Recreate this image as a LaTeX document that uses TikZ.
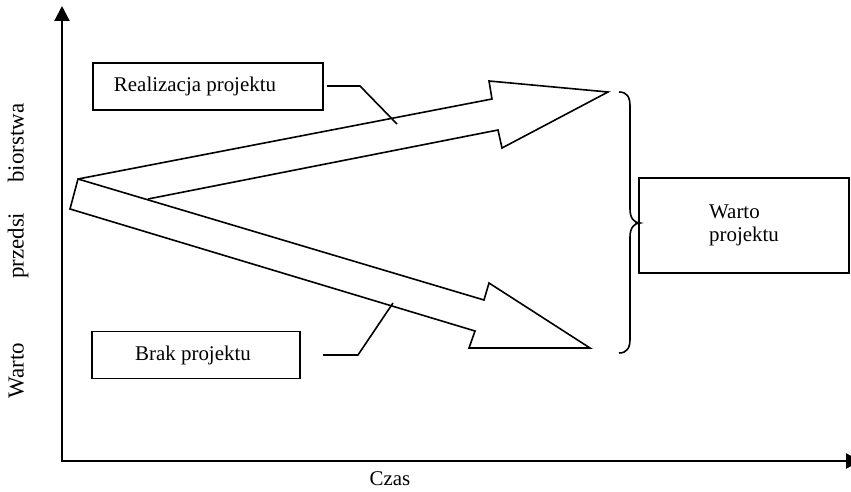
\documentclass[tikz,border=0pt]{standalone}
\usepackage{fontspec}
\setmainfont{Liberation Serif}
\usetikzlibrary{arrows.meta}
\begin{document}
\begin{tikzpicture}[x=1bp,y=-1bp,
  font=\fontsize{21}{23}\selectfont,
  box/.style={draw, line width=1.6bp, inner sep=0pt},
  shapeline/.style={line width=1.6bp, line join=miter},
  axis/.style={line width=2.2bp, -{Triangle[length=15bp,width=15bp]}}]
\useasboundingbox (0,0) rectangle (851,492);
% axes
\coordinate (o) at (62,461);
\coordinate (ytip) at (62,6);
\coordinate (xtip) at (861,461);
\draw[axis] ([yshift=-1.1bp]o) -- (ytip);
\draw[axis] ([xshift=-1.1bp]o) -- (xtip);
\node[rotate=90, font=\fontsize{23}{25}\selectfont] (ylab) at (18,251) {Warto\hspace{64bp}przedsi\hspace{30bp}biorstwa};
\node (xlab) at (390,479) {Czas};
% arrows
\draw[shapeline] (78,179) -- (492,99) -- (489,81) -- (608,92) -- (502,148) -- (498,130) -- (148,199);
\draw[shapeline] (78,179) -- (484,300) -- (489,283) -- (590,348) -- (469,348) -- (475,331) -- (70,209) -- cycle;
% boxes
\node[box, minimum width=230bp, minimum height=47bp] (real) at (208,86.5) {};
\node (realtxt) at (195,86) {Realizacja projektu};
\node[box, minimum width=208bp, minimum height=47bp] (brak) at (196,355) {};
\node (braktxt) at (193,355) {Brak projektu};
\node[box, minimum width=210bp, minimum height=95bp, align=left] (wart) at (744,225.5) {Warto\\projektu};
% leaders
\coordinate (r1) at (327,86);
\coordinate (r2) at (360,86);
\coordinate (r3) at (397,124);
\draw[shapeline] (r1) -- (r2) -- (r3);
\coordinate (b1) at (323,355);
\coordinate (b2) at (358,355);
\coordinate (b3) at (393,303);
\draw[shapeline] (b1) -- (b2) -- (b3);
% brace
\draw[shapeline] (619,92) .. controls (627,92) and (630,97) .. (630,106) -- (630,209)
  .. controls (630,218) and (634,223) .. (640,223)
  .. controls (634,223) and (630,228) .. (630,237) -- (630,339)
  .. controls (630,348) and (627,353) .. (619,353);
\end{tikzpicture}
\end{document}
